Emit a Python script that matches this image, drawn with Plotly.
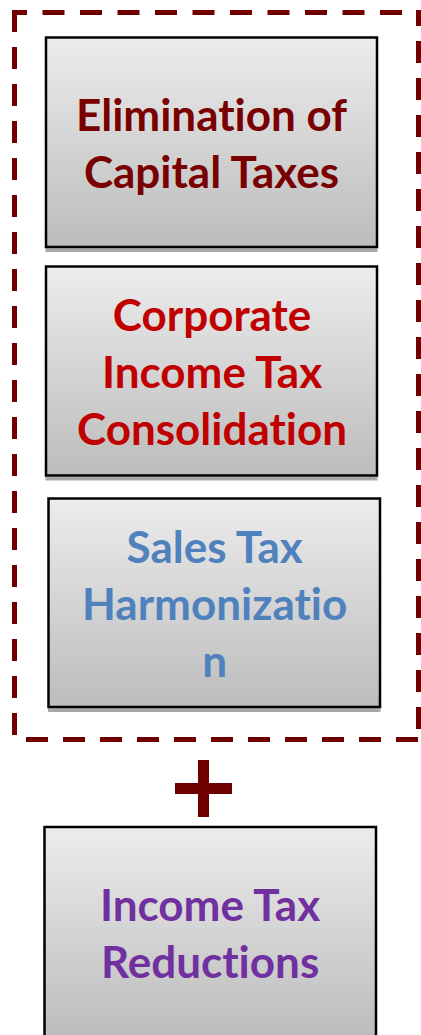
import numpy as np
import plotly.graph_objects as go

# ---- content (text of each box and its colour) ----
box_lines = [
    ["Elimination of", "Capital Taxes"],
    ["Corporate", "Income Tax", "Consolidation"],
    ["Sales Tax", "Harmonizatio", "n"],
    ["Income Tax", "Reductions"],
]
label_colors = ["#780000", "#c00000", "#4f81bd", "#7030a0"]

# ---- layout constants (pixel space of the window, y downward) ----
W, H = 421, 1035
box_x0 = [46, 46, 48.5, 44.5]
box_y0 = [37.5, 266.5, 498.5, 827]
box_x1 = [377, 377, 380, 376]
box_y1 = [247, 475.5, 707, 1037]
dash_color = "#700000"
grad_top, grad_bottom = "#ececec", "#bcbcbc"
font_family = "Lato"
font_size = 44

fig = go.Figure()

# gradient fills
for x0, y0, x1, y1 in zip(box_x0, box_y0, box_x1, box_y1):
    n = 80
    ys = np.linspace(y0, y1, n + 1)
    z = [[(i + 0.5) / n] for i in range(n)]
    fig.add_trace(go.Heatmap(
        x=[x0, x1], y=ys, z=z,
        colorscale=[[0, grad_top], [1, grad_bottom]],
        zmin=0, zmax=1, showscale=False, hoverinfo="skip",
    ))

shapes = []
for x0, y0, x1, y1 in zip(box_x0, box_y0, box_x1, box_y1):
    # drop shadow strip
    shapes.append(dict(type="rect", xref="x", yref="y", x0=x0 - 0.5, x1=x1 + 0.5,
                       y0=y1 + 1.2, y1=y1 + 5, fillcolor="#a8a8a8",
                       line=dict(width=0), layer="below"))
    # border
    shapes.append(dict(type="rect", xref="x", yref="y", x0=x0, x1=x1, y0=y0, y1=y1,
                       line=dict(color="black", width=2.5), fillcolor="rgba(0,0,0,0)"))

def pattern(first, gap, dash, reps=40):
    parts = []
    if first is not None:
        parts += [f"{first}px", f"{gap}px"]
    parts += [f"{dash}px", f"{gap}px"] * reps
    return ",".join(parts)

dash_lines = [
    dict(x0=12, y0=12.5, x1=421, y1=12.5, dash=pattern(15, 15.5, 22)),      # top
    dict(x0=14.5, y0=10, x1=14.5, y1=742, dash=pattern(None, 15, 22)),      # left
    dict(x0=26, y0=739.5, x1=421, y1=739.5, dash=pattern(None, 15, 22)),    # bottom
    dict(x0=418.5, y0=10, x1=418.5, y1=742, dash=pattern(16, 15, 22)),      # right
]
for d in dash_lines:
    shapes.append(dict(type="line", xref="x", yref="y", x0=d["x0"], y0=d["y0"],
                       x1=d["x1"], y1=d["y1"],
                       line=dict(color=dash_color, width=5, dash=d["dash"])))

# plus sign
shapes.append(dict(type="rect", xref="x", yref="y", x0=175, x1=232, y0=783, y1=794,
                   fillcolor=dash_color, line=dict(width=0)))
shapes.append(dict(type="rect", xref="x", yref="y", x0=198, x1=209, y0=760, y1=817,
                   fillcolor=dash_color, line=dict(width=0)))

ZWNJ = "&#8204;"  # keeps "t" and "i" as separate glyphs (no ligature)

annotations = []
for lines, col, x0, y0, x1, y1 in zip(box_lines, label_colors, box_x0, box_y0, box_x1, box_y1):
    annotations.append(dict(
        x=(x0 + x1) / 2, y=(y0 + y1) / 2, xref="x", yref="y",
        text="<br>".join(f"<b>{t.replace('ti', 't' + ZWNJ + 'i')}</b>" for t in lines),
        showarrow=False, xanchor="center", yanchor="middle", align="center",
        font=dict(family=font_family, size=font_size, color=col),
    ))

fig.update_layout(
    width=W, height=H,
    margin=dict(l=0, r=0, t=0, b=0),
    paper_bgcolor="white", plot_bgcolor="white",
    xaxis=dict(range=[0, W], visible=False, fixedrange=True),
    yaxis=dict(range=[H, 0], visible=False, fixedrange=True),
    shapes=shapes, annotations=annotations, showlegend=False,
)

fig.write_html("out.html",
               config={"displayModeBar": False, "staticPlot": True},
               post_script="document.body.style.margin='0';document.body.style.overflow='hidden';")
